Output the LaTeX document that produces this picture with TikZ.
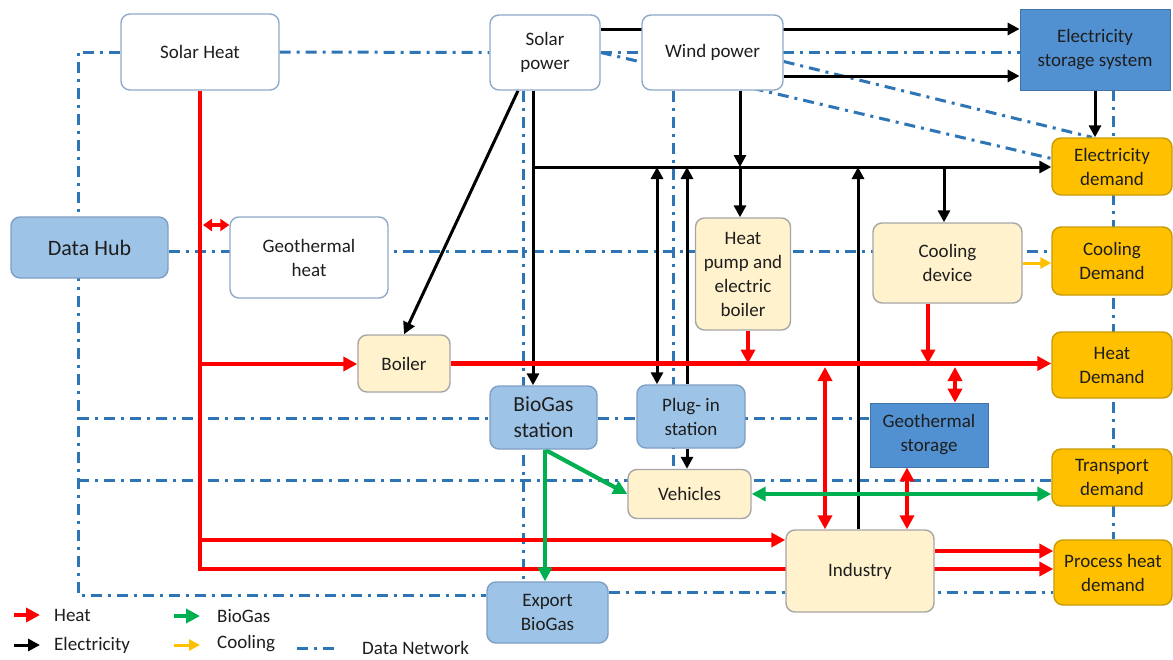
\documentclass[tikz,border=0pt]{standalone}
\usepackage{fontspec}
\setmainfont{Carlito}
\usetikzlibrary{arrows.meta,calc}
\pgfdeclarelayer{background}
\pgfsetlayers{background,main}

\definecolor{netblue}{HTML}{2E75B6}
\definecolor{heatred}{HTML}{FF0000}
\definecolor{gasgreen}{HTML}{00B050}
\definecolor{coolyel}{HTML}{FFC000}
\definecolor{beige}{HTML}{FFF2CC}
\definecolor{beigeline}{HTML}{A6A6A6}
\definecolor{lblue}{HTML}{9DC3E6}
\definecolor{lblueline}{HTML}{7F9FC4}
\definecolor{dblue}{HTML}{5191D2}
\definecolor{orangebox}{HTML}{FFC000}
\definecolor{orangeline}{HTML}{C99A06}
\definecolor{wline}{HTML}{8FAAC8}
\definecolor{txt}{HTML}{1E1E1E}

\tikzset{
  sz/.style 2 args={minimum width=#1pt, minimum height=#2pt},
  box/.style={rounded corners=9pt, line width=1.4pt, align=center, inner sep=2pt,
              text=txt, font=\fontsize{19}{24}\selectfont},
  wbox/.style={box, fill=white, draw=wline},
  bbox/.style={box, fill=beige, draw=beigeline},
  lbox/.style={box, fill=lblue, draw=lblueline},
  dbox/.style={box, sharp corners, fill=dblue, draw=dblue!80!black, line width=0.8pt},
  obox/.style={box, fill=orangebox, draw=orangeline},
  lgtext/.style={anchor=west, inner sep=0pt, text=txt, font=\fontsize{19}{22}\selectfont},
  dnet/.style={draw=netblue, line width=3pt, dash pattern=on 11pt off 6pt on 3pt off 6pt},
  heat/.style={draw=heatred, line width=4.4pt},
  elec/.style={draw=black, line width=3pt},
  gas/.style={draw=gasgreen, line width=4.2pt},
  cool/.style={draw=coolyel, line width=3pt},
  harrow/.style={-{Triangle[length=14pt,width=14pt]}},
  hdouble/.style={{Triangle[length=14pt,width=14pt]}-{Triangle[length=14pt,width=14pt]}},
  hshort/.style={{Triangle[length=9pt,width=12pt]}-{Triangle[length=9pt,width=12pt]}},
  earrow/.style={-{Triangle[length=12pt,width=12pt]}},
  edouble/.style={{Triangle[length=12pt,width=12pt]}-{Triangle[length=12pt,width=12pt]}},
  garrow/.style={-{Triangle[length=14pt,width=14pt]}},
  gdouble/.style={{Triangle[length=14pt,width=14pt]}-{Triangle[length=14pt,width=14pt]}},
  carrow/.style={-{Triangle[length=11pt,width=11pt]}},
}

\begin{document}
\begin{tikzpicture}[x=1pt, y=-1pt]
\begin{pgfonlayer}{background}
\fill[white] (0,0) rectangle (1173,659);
\end{pgfonlayer}
\useasboundingbox (0,0) rectangle (1173,659);

% ---------- boxes ----------
\node[wbox, sz={158}{76}] (solarheat) at (200,52) {Solar Heat};
\node[wbox, sz={110}{75}] (solarpower) at (545,52.5) {Solar\\power};
\node[wbox, sz={141}{75}] (wind) at (712.5,52.5) {Wind power};
\node[dbox, sz={150}{81}] (elecstore) at (1095,49.5) {Electricity\\storage system};
\node[lbox, sz={157}{61}, font=\fontsize{22}{26}\selectfont] (datahub) at (89.5,247.5) {Data Hub};
\node[wbox, sz={158}{81}] (geoheat) at (309,257.5) {Geothermal\\heat};
\node[bbox, sz={92}{57}] (boiler) at (404,363.5) {Boiler};
\node[bbox, sz={95}{112}] (heatpump) at (743,274) {Heat\\pump and\\electric\\boiler};
\node[bbox, sz={149}{80}] (cooldev) at (947.5,263) {Cooling\\device};
\node[obox, sz={120}{57}] (elecdem) at (1112,166.5) {Electricity\\demand};
\node[obox, sz={120}{68}] (cooldem) at (1112,261) {Cooling\\Demand};
\node[obox, sz={120}{66}] (heatdem) at (1112,365) {Heat\\Demand};
\node[obox, sz={120}{57}] (transdem) at (1112,477.5) {Transport\\demand};
\node[obox, sz={118}{65}] (procdem) at (1113,572.5) {Process heat\\demand};
\node[lbox, sz={107}{63}, font=\fontsize{21.5}{26}\selectfont] (biogas) at (543.5,417.5) {BioGas\\station};
\node[lbox, sz={108}{63}] (plugin) at (691,416.5) {Plug- in\\station};
\node[dbox, sz={118}{64}] (geostore) at (929,435) {Geothermal\\storage};
\node[bbox, sz={123}{49}] (vehicles) at (689.5,494) {Vehicles};
\node[bbox, sz={148}{82}] (industry) at (860,571) {Industry};
\node[lbox, sz={121}{61}] (export) at (547.5,612.5) {Export\\BioGas};

% ---------- reference levels and columns ----------
\coordinate (y29) at (0,29);
\coordinate (y76) at (0,76);
\coordinate (busL) at (533,167);
\coordinate (xsd) at (518,0);
\coordinate (xw) at (740,0);
\coordinate (xc) at (944,0);
\coordinate (xp1) at (657,0);
\coordinate (xp2) at (687,0);
\coordinate (xi) at (858,0);
\coordinate (xs) at (1095,0);
\coordinate (hx) at (200,0);
\coordinate (hg) at (203,225);
\coordinate (ylow) at (0,569);
\coordinate (yup) at (0,540);
\coordinate (yb) at (0,364);
\coordinate (yb2) at (0,367);
\coordinate (ypr) at (0,551);
\coordinate (xhp) at (748,0);
\coordinate (xcd) at (928,0);
\coordinate (xind) at (825,0);
\coordinate (xgs) at (955,0);
\coordinate (xgi) at (907,0);
\coordinate (xg) at (545,0);
\coordinate (xL) at (78,0);
\coordinate (ybot) at (0,595);
\coordinate (yn3) at (0,251);
\coordinate (yn4) at (0,418);
\coordinate (yn5) at (0,480);
\coordinate (yn6) at (0,592);
\coordinate (xn7) at (523,0);
\coordinate (xn8) at (673,0);
\coordinate (xn9) at (1113,0);

\begin{pgfonlayer}{background}
% ---------- data network ----------
\draw[dnet] (solarheat.west) -- (xL |- solarheat.west) -- (xL |- ybot) -- (export.west |- ybot);
\draw[dnet] (solarheat.east) -- (solarpower.west);
\draw[dnet] (solarpower.east) -- (elecstore.west |- solarpower.east);
\draw[dnet] (datahub.east |- yn3) -- (cooldem.west |- yn3);
\draw[dnet] (xL |- yn4) -- (geostore.west |- yn4);
\draw[dnet] (xL |- yn5) -- (transdem.west |- yn5);
\draw[dnet] (export.east |- yn6) -- (procdem.west |- yn6);
\draw[dnet] (solarpower.south -| xn7) -- (export.north -| xn7);
\draw[dnet] (wind.south -| xn8) -- (vehicles.north -| xn8);
\draw[dnet] (elecstore.south -| xn9) -- (procdem.north -| xn9);
\draw[dnet] (solarpower.east) -- ($(elecdem.west)+(0,-8)$);
\draw[dnet] ($(wind.east)+(0,9)$) -- ($(elecdem.north)+(-20,0)$);

% ---------- electricity ----------
\draw[elec,earrow] (solarpower.east |- y29) -- (elecstore.west |- y29);
\draw[elec,earrow] (wind.east |- y76) -- (elecstore.west |- y76);
\draw[elec,earrow] (busL |- solarpower.south) -- (busL |- biogas.north);
\draw[elec,earrow] (busL) -- (elecdem.west |- busL);
\draw[elec,earrow] (solarpower.south -| xsd) -- (boiler.north);
\draw[elec,earrow] (wind.south -| xw) -- (busL -| xw);
\draw[elec,earrow] (busL -| xw) -- (heatpump.north -| xw);
\draw[elec,earrow] (busL -| xc) -- (cooldev.north -| xc);
\draw[elec,edouble] (plugin.north -| xp1) -- (busL -| xp1);
\draw[elec,earrow] (plugin.north -| xp2) -- (busL -| xp2);
\draw[elec,earrow] (plugin.south -| xp2) -- (vehicles.north -| xp2);
\draw[elec,earrow] (industry.north -| xi) -- (busL -| xi);
\draw[elec,earrow] (elecstore.south -| xs) -- (elecdem.north -| xs);

% ---------- heat ----------
\draw[heat,harrow] (solarheat.south) -- (hx |- ylow) -- (procdem.west |- ylow);
\draw[heat,harrow] (hx |- yup) -- (industry.west |- yup);
\draw[heat,harrow] (hx |- yb) -- (boiler.west |- yb);
\draw[heat,hshort] (hg) -- (geoheat.west |- hg);
\draw[heat,harrow] (boiler.east) -- (heatdem.west |- boiler.east);
\draw[heat,harrow] (heatpump.south -| xhp) -- (boiler.east -| xhp);
\draw[heat,harrow] (cooldev.south -| xcd) -- (boiler.east -| xcd);
\draw[heat,hdouble] (yb2 -| xind) -- (industry.north -| xind);
\draw[heat,hdouble] (yb2 -| xgs) -- (geostore.north -| xgs);
\draw[heat,hdouble] (geostore.south -| xgi) -- (industry.north -| xgi);
\draw[heat,harrow] (industry.east |- ypr) -- (procdem.west |- ypr);

% ---------- biogas ----------
\draw[gas,garrow] (biogas.south -| xg) -- (export.north -| xg);
\draw[gas,garrow] (biogas.south -| xg) -- (vehicles.west);
\draw[gas,gdouble] (vehicles.east) -- (transdem.west |- vehicles.east);

% ---------- cooling ----------
\draw[cool,carrow] (cooldev.east) -- (cooldem.west |- cooldev.east);
\end{pgfonlayer}

% ---------- legend ----------
\coordinate (lh1) at (14,615);  \coordinate (lh2) at (40,615);
\coordinate (le1) at (14,645);  \coordinate (le2) at (40,645);
\coordinate (lg1) at (174,616); \coordinate (lg2) at (200,616);
\coordinate (lc1) at (174,645); \coordinate (lc2) at (200,645);
\coordinate (ln1) at (297,648); \coordinate (ln2) at (339,648);
\draw[heat,harrow] (lh1) -- (lh2);
\draw[elec,earrow] (le1) -- (le2);
\draw[gas,garrow] (lg1) -- (lg2);
\draw[cool,carrow] (lc1) -- (lc2);
\draw[dnet] (ln1) -- (ln2);
\node[lgtext] (lgheat) at (54,615) {Heat};
\node[lgtext] (lgelec) at (54,645) {Electricity};
\node[lgtext] (lggas) at (217,616) {BioGas};
\node[lgtext] (lgcool) at (217,644) {Cooling};
\node[lgtext] (lgnet) at (362,648) {Data Network};
\end{tikzpicture}
\end{document}
